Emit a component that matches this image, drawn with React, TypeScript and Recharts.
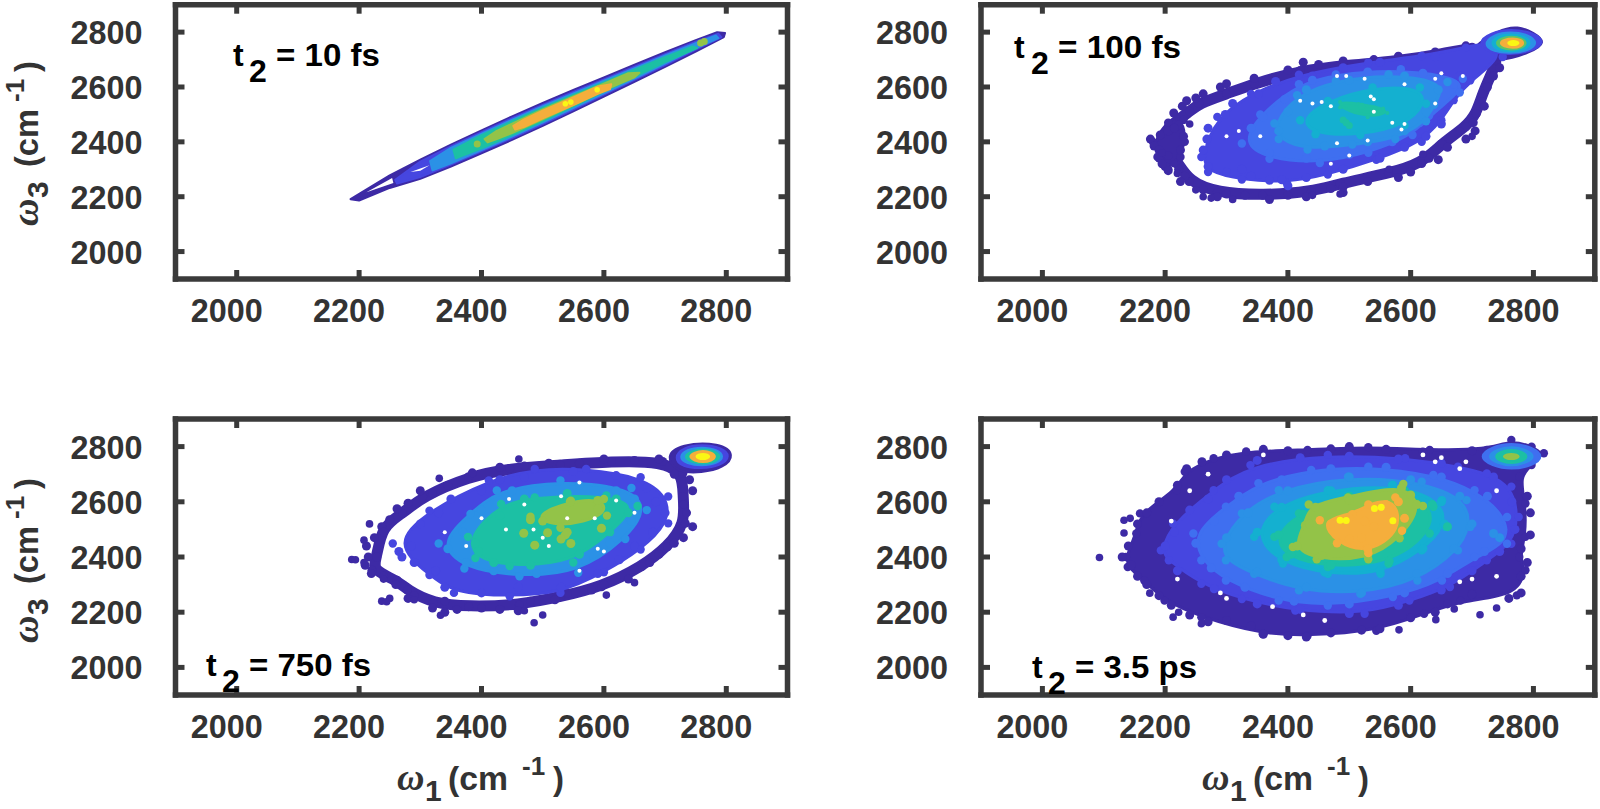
import React from 'react';
import { ScatterChart, Scatter, XAxis, YAxis } from 'recharts';

type P = number[];
const tickValues = [2000, 2200, 2400, 2600, 2800];
const axisDomain = [1900, 2900];
const panelNotes = ['= 10 fs', '= 100 fs', '= 750 fs', '= 3.5 ps'];

// ---- t2 = 10 fs
const p1Outer: P[] = [[2186,2191],[2250,2278],[2300,2335],[2350,2390],[2400,2442],[2450,2493],[2500,2542],[2550,2589],[2600,2635],[2650,2681],[2700,2727],[2750,2771],[2785,2800],[2798,2797],[2796,2782],[2750,2729],[2700,2673],[2650,2619],[2600,2565],[2550,2511],[2500,2458],[2450,2407],[2400,2358],[2350,2310],[2300,2265],[2250,2232],[2200,2186]];
const p1Gap1: P[] = [[2212,2216],[2254,2268],[2256,2250]];
const p1L2: P[] = [[2259,2262],[2300,2328],[2350,2383],[2400,2435],[2450,2486],[2500,2535],[2550,2582],[2600,2628],[2650,2674],[2700,2720],[2750,2765],[2787,2794],[2792,2782],[2750,2736],[2700,2680],[2650,2626],[2600,2572],[2550,2518],[2500,2465],[2450,2414],[2400,2365],[2350,2317],[2300,2272],[2262,2248]];
const p1Gap2: P[] = [[2284,2290],[2315,2315],[2300,2295]];
const p1L3: P[] = [[2316,2330],[2350,2378],[2400,2430],[2450,2481],[2500,2530],[2550,2577],[2600,2623],[2650,2669],[2700,2715],[2750,2760],[2783,2788],[2787,2778],[2750,2741],[2700,2685],[2650,2631],[2600,2577],[2550,2523],[2500,2470],[2450,2419],[2400,2370],[2350,2322],[2320,2296]];
const p1L4: P[] = [[2354,2372],[2400,2424],[2450,2475],[2500,2524],[2550,2571],[2600,2617],[2650,2663],[2700,2709],[2745,2748],[2752,2742],[2700,2691],[2650,2637],[2600,2583],[2550,2529],[2500,2476],[2450,2425],[2400,2376],[2358,2340]];
const p1L5: P[] = [[2405,2410],[2425,2440],[2450,2466],[2500,2518],[2550,2566],[2600,2612],[2640,2650],[2658,2652],[2650,2635],[2600,2588],[2550,2534],[2500,2482],[2450,2432],[2425,2410],[2410,2398]];
const p1L6: P[] = [[2452,2458],[2470,2482],[2500,2514],[2550,2562],[2590,2602],[2612,2610],[2610,2592],[2590,2575],[2550,2534],[2500,2486],[2470,2455],[2455,2445]];
const p1Green: P[] = [[2758,2760],[2764,2766],[2393,2392]];
const p1Yellow: P[] = [[2537,2539],[2546,2545],[2589,2590]];

// ---- t2 = 100 fs
const p2Ring: P[] = [[2190,2400],[2205,2455],[2240,2510],[2255,2540],[2300,2575],[2345,2612],[2420,2660],[2500,2680],[2580,2695],[2650,2720],[2700,2745],[2745,2725],[2735,2665],[2717,2576],[2707,2503],[2690,2455],[2651,2394],[2618,2321],[2564,2285],[2485,2248],[2438,2218],[2359,2205],[2285,2215],[2239,2255],[2219,2333],[2199,2382]];
const p2Left: P[] = [[2180,2400],[2205,2470],[2230,2480],[2232,2400],[2225,2345],[2205,2300],[2190,2340]];
const p2RingBumps: P[] = [[2176,2410],[2182,2385],[2192,2425],[2205,2440],[2222,2462],[2214,2505],[2228,2530],[2235,2550],[2250,2560],[2262,2575],[2290,2600],[2300,2612],[2345,2632],[2400,2662],[2425,2690],[2450,2682],[2490,2695],[2540,2700],[2580,2712],[2640,2728],[2690,2750],[2190,2370],[2188,2345],[2200,2310],[2195,2320],[2205,2295],[2222,2300],[2232,2275],[2225,2255],[2262,2225],[2285,2200],[2300,2210],[2330,2205],[2370,2190],[2400,2205],[2430,2200],[2470,2230],[2490,2215],[2490,2235],[2530,2255],[2580,2270],[2600,2290],[2630,2340],[2645,2335],[2660,2380],[2690,2410],[2705,2440],[2702,2470],[2720,2530],[2725,2600],[2735,2640],[2745,2670],[2205,2350],[2225,2370],[2230,2420],[2215,2450]];
const p2Tail: P[] = [[2695,2735],[2745,2812],[2775,2822],[2800,2800],[2822,2762],[2795,2725],[2745,2690],[2700,2715]];
const p2L2: P[] = [[2259,2345],[2285,2491],[2340,2575],[2418,2645],[2531,2689],[2618,2713],[2690,2743],[2730,2768],[2750,2709],[2697,2624],[2670,2552],[2650,2479],[2618,2400],[2544,2335],[2465,2281],[2398,2251],[2325,2263],[2270,2290]];
const p2L2Bumps: P[] = [[2262,2370],[2268,2410],[2270,2450],[2298,2500],[2310,2540],[2352,2575],[2380,2620],[2440,2640],[2490,2670],[2550,2690],[2640,2710],[2680,2640],[2665,2590],[2655,2530],[2650,2465],[2625,2420],[2590,2380],[2550,2340],[2490,2300],[2430,2270],[2390,2262],[2340,2275],[2300,2290],[2270,2310],[2400,2240],[2370,2260],[2325,2300]];
const p2L3: P[] = [[2325,2394],[2355,2500],[2418,2610],[2478,2646],[2584,2665],[2685,2630],[2680,2580],[2630,2495],[2603,2425],[2531,2360],[2452,2323],[2370,2338]];
const p2L3Bumps: P[] = [[2340,2450],[2360,2490],[2395,2555],[2440,2625],[2530,2655],[2620,2650],[2670,2610],[2640,2540],[2615,2470],[2570,2400],[2500,2355],[2430,2340],[2370,2360]];
const p2L4: P[] = [[2378,2467],[2415,2570],[2478,2622],[2564,2646],[2660,2618],[2638,2535],[2625,2475],[2575,2410],[2505,2390],[2432,2372],[2385,2410]];
const p2L4Bumps: P[] = [[2385,2440],[2400,2510],[2430,2590],[2500,2625],[2590,2640],[2645,2590],[2625,2510],[2590,2440],[2530,2400],[2460,2385]];
const p2L5: P[] = [[2420,2479],[2465,2549],[2538,2598],[2615,2598],[2625,2539],[2590,2460],[2518,2425],[2445,2428]];
const p2L6a: P[] = [[2485,2545],[2515,2538],[2555,2522],[2562,2505],[2530,2490],[2485,2525]];
const p2L6b: P[] = [[2490,2480],[2500,2460],[2495,2470],[2520,2530],[2540,2520]];
const p2PeakA: P[] = [[2708,2760],[2730,2798],[2763,2812],[2802,2798],[2820,2760],[2795,2728],[2763,2718],[2728,2724]];
const p2PeakB: P[] = [[2718,2755],[2735,2792],[2763,2802],[2792,2792],[2808,2760],[2792,2732],[2763,2722],[2735,2728]];
const p2PeakC: P[] = [[2730,2760],[2740,2785],[2763,2794],[2787,2785],[2797,2760],[2787,2736],[2763,2727],[2740,2736]];
const p2PeakD: P[] = [[2738,2760],[2746,2778],[2765,2786],[2782,2778],[2790,2760],[2782,2742],[2765,2734],[2746,2742]];
const p2PeakE: P[] = [[2745,2760],[2751,2773],[2767,2779],[2780,2773],[2785,2760],[2780,2747],[2767,2741],[2751,2747]];
const p2PeakF: P[] = [[2755,2760],[2767,2771],[2780,2760],[2767,2749]];
const p2Specks: P[] = [[2262,2200],[2485,2210],[2250,2225],[2220,2285],[2215,2320],[2240,2465],[2680,2440],[2700,2420],[2195,2360],[2275,2195],[2310,2190],[2440,2205],[2620,2355],[2565,2300]];
const p2White: P[] = [[2540,2510],[2525,2630],[2685,2640],[2300,2420],[2640,2540],[2420,2550],[2570,2470],[2470,2320],[2535,2565],[2540,2555],[2470,2530],[2455,2545],[2440,2540],[2640,2630],[2650,2650],[2590,2610],[2480,2640],[2495,2640],[2320,2440],[2355,2420],[2530,2405],[2585,2445],[2590,2465],[2480,2395],[2500,2350]];

// ---- t2 = 750 fs
const p3Ring: P[] = [[2229,2400],[2237,2510],[2271,2558],[2304,2619],[2379,2691],[2446,2721],[2529,2733],[2612,2746],[2696,2746],[2729,2703],[2729,2619],[2733,2522],[2704,2437],[2662,2365],[2596,2292],[2529,2256],[2462,2226],[2379,2220],[2321,2232],[2279,2280],[2262,2316],[2221,2352]];
const p3RingBumps: P[] = [[2215,2400],[2212,2440],[2225,2470],[2240,2490],[2250,2535],[2262,2575],[2280,2595],[2300,2640],[2320,2630],[2345,2660],[2385,2705],[2430,2725],[2470,2730],[2510,2740],[2560,2740],[2600,2755],[2650,2750],[2690,2755],[2715,2700],[2740,2680],[2745,2640],[2730,2590],[2735,2560],[2745,2510],[2730,2470],[2715,2450],[2690,2410],[2675,2380],[2650,2355],[2640,2320],[2600,2300],[2580,2280],[2540,2270],[2520,2245],[2480,2240],[2460,2205],[2430,2210],[2400,2215],[2360,2210],[2340,2240],[2320,2215],[2340,2200],[2290,2260],[2280,2250],[2260,2300],[2240,2330],[2220,2340],[2210,2370]];
const p3Tail: P[] = [[2700,2764],[2725,2810],[2790,2815],[2815,2770],[2795,2722],[2760,2705],[2720,2705]];
const p3L2: P[] = [[2255,2449],[2315,2568],[2412,2677],[2487,2719],[2571,2719],[2660,2689],[2705,2619],[2705,2522],[2660,2427],[2600,2345],[2529,2270],[2446,2258],[2355,2270],[2315,2335]];
const p3L2Bumps: P[] = [[2270,2400],[2285,2440],[2265,2420],[2300,2520],[2330,2560],[2350,2610],[2400,2640],[2430,2680],[2470,2690],[2550,2710],[2620,2695],[2670,2650],[2685,2600],[2700,2560],[2680,2490],[2650,2440],[2625,2390],[2590,2340],[2530,2290],[2460,2290],[2400,2270],[2340,2290],[2325,2350],[2290,2380]];
const p3L3: P[] = [[2330,2449],[2382,2556],[2425,2641],[2529,2677],[2645,2650],[2670,2570],[2635,2465],[2558,2343],[2462,2330],[2372,2358]];
const p3L3Bumps: P[] = [[2345,2430],[2370,2490],[2400,2570],[2450,2640],[2560,2660],[2620,2640],[2650,2610],[2645,2530],[2610,2450],[2570,2390],[2490,2340],[2420,2350],[2375,2380]];
const p3L4: P[] = [[2378,2473],[2432,2592],[2487,2616],[2604,2623],[2655,2585],[2610,2490],[2550,2380],[2446,2367],[2390,2396]];
const p3L4Bumps: P[] = [[2390,2450],[2430,2550],[2470,2610],[2540,2630],[2620,2610],[2640,2560],[2600,2500],[2560,2410],[2480,2370],[2420,2380],[2395,2420]];
const p3L5: P[] = [[2480,2546],[2546,2604],[2600,2610],[2605,2550],[2529,2506]];
const p3Green: P[] = [[2469,2486],[2508,2488],[2537,2480],[2546,2449],[2487,2443],[2596,2504],[2530,2465],[2540,2490],[2480,2535],[2545,2600],[2590,2605],[2590,2575],[2500,2530]];
const p3PeakB: P[] = [[2714,2760],[2730,2798],[2760,2808],[2792,2798],[2808,2765],[2790,2730],[2760,2720],[2728,2726]];
const p3PeakC: P[] = [[2722,2762],[2735,2790],[2760,2799],[2785,2790],[2797,2764],[2785,2738],[2760,2730],[2735,2738]];
const p3PeakD: P[] = [[2730,2764],[2742,2784],[2762,2792],[2782,2784],[2792,2764],[2782,2744],[2762,2736],[2742,2744]];
const p3PeakE: P[] = [[2738,2764],[2748,2780],[2762,2786],[2776,2780],[2784,2764],[2776,2748],[2762,2742],[2748,2748]];
const p3PeakF: P[] = [[2746,2764],[2762,2778],[2777,2764],[2762,2750]];
const p3Specks: P[] = [[2461,2755],[2331,2685],[2217,2520],[2208,2461],[2188,2391],[2237,2240],[2486,2162],[2333,2189],[2604,2262],[2650,2307],[2304,2510],[2250,2250],[2290,2245],[2208,2380],[2240,2320],[2500,2190],[2470,2205],[2730,2590],[2245,2238],[2194,2390]];
const p3White: P[] = [[2485,2500],[2600,2420],[2530,2620],[2650,2560],[2400,2540],[2440,2500],[2540,2540],[2500,2470],[2510,2440],[2585,2540],[2590,2430],[2470,2590],[2560,2350],[2620,2605],[2340,2490],[2375,2440],[2560,2670],[2445,2610]];

// ---- t2 = 3.5 ps
const p4Outer: P[] = [[2136,2400],[2153,2485],[2159,2558],[2219,2642],[2232,2709],[2279,2758],[2332,2782],[2432,2788],[2531,2798],[2631,2788],[2724,2788],[2764,2824],[2797,2800],[2817,2776],[2797,2733],[2777,2691],[2787,2594],[2787,2473],[2777,2400],[2787,2352],[2773,2261],[2681,2242],[2622,2194],[2544,2133],[2432,2115],[2359,2121],[2259,2182],[2199,2242],[2166,2315],[2139,2364]];
const p4OuterBumps: P[] = [[2130,2400],[2140,2440],[2155,2520],[2170,2560],[2190,2600],[2220,2660],[2235,2720],[2260,2745],[2300,2770],[2360,2790],[2400,2785],[2470,2792],[2500,2800],[2560,2790],[2620,2780],[2700,2785],[2790,2620],[2795,2560],[2795,2480],[2780,2430],[2790,2380],[2780,2330],[2780,2270],[2760,2250],[2700,2265],[2660,2230],[2640,2200],[2600,2180],[2550,2140],[2520,2135],[2470,2125],[2430,2110],[2400,2115],[2360,2120],[2340,2150],[2300,2170],[2270,2165],[2240,2190],[2210,2225],[2190,2260],[2170,2300],[2155,2330],[2145,2370]];
const p4L2: P[] = [[2193,2424],[2213,2521],[2279,2642],[2339,2733],[2465,2770],[2591,2758],[2677,2727],[2724,2703],[2764,2655],[2776,2545],[2764,2448],[2724,2388],[2664,2291],[2598,2242],[2525,2194],[2412,2206],[2325,2248],[2259,2303],[2206,2388]];
const p4L2Bumps: P[] = [[2200,2440],[2215,2490],[2240,2570],[2270,2610],[2300,2680],[2350,2750],[2420,2760],[2500,2765],[2580,2755],[2650,2740],[2735,2690],[2765,2600],[2770,2500],[2745,2420],[2700,2350],[2650,2280],[2580,2225],[2500,2195],[2420,2210],[2350,2230],[2280,2285],[2220,2350]];
const p4L3: P[] = [[2246,2485],[2299,2582],[2352,2667],[2438,2715],[2531,2727],[2637,2697],[2704,2642],[2757,2545],[2757,2448],[2704,2400],[2651,2315],[2571,2255],[2465,2224],[2385,2242],[2299,2315],[2259,2388]];
const p4L3Bumps: P[] = [[2250,2450],[2280,2530],[2320,2620],[2390,2680],[2470,2720],[2560,2725],[2650,2690],[2725,2620],[2750,2500],[2720,2420],[2660,2340],[2590,2270],[2500,2230],[2410,2240],[2330,2290],[2275,2360]];
const p4L4: P[] = [[2292,2448],[2325,2558],[2385,2642],[2498,2691],[2618,2673],[2691,2606],[2697,2509],[2677,2424],[2611,2315],[2518,2267],[2418,2279],[2345,2339],[2299,2388]];
const p4L4Bumps: P[] = [[2300,2470],[2335,2560],[2400,2640],[2500,2690],[2600,2680],[2680,2620],[2700,2520],[2670,2430],[2610,2340],[2520,2270],[2430,2290],[2350,2345],[2745,2470],[2735,2485]];
const p4L5: P[] = [[2345,2473],[2378,2582],[2465,2642],[2571,2661],[2651,2606],[2657,2509],[2618,2424],[2551,2339],[2465,2339],[2392,2376]];
const p4L5Bumps: P[] = [[2350,2490],[2390,2580],[2470,2640],[2570,2660],[2650,2600],[2655,2520],[2620,2430],[2550,2350],[2460,2345],[2390,2390]];
const p4L6: P[] = [[2378,2473],[2418,2558],[2498,2618],[2584,2636],[2637,2582],[2631,2485],[2564,2376],[2465,2364],[2398,2400]];
const p4L6Bumps: P[] = [[2385,2480],[2425,2555],[2500,2620],[2590,2640],[2635,2590],[2660,2510],[2565,2385],[2470,2370],[2405,2410]];
const p4L7: P[] = [[2408,2436],[2428,2515],[2434,2590],[2498,2616],[2588,2665],[2620,2585],[2582,2468],[2531,2392],[2447,2392]];
const p4L7Bumps: P[] = [[2415,2440],[2435,2520],[2445,2580],[2500,2605],[2585,2650],[2610,2590],[2580,2480],[2530,2405],[2455,2405],[2600,2625]];
const p4L8: P[] = [[2452,2533],[2505,2555],[2531,2590],[2575,2616],[2586,2495],[2531,2414],[2480,2450]];
const p4L8Bumps: P[] = [[2500,2540],[2525,2530],[2540,2510],[2560,2590],[2580,2600],[2590,2540],[2520,2470],[2500,2465],[2530,2430],[2470,2520]];
const p4Yellow: P[] = [[2485,2533],[2495,2532],[2571,2531],[2541,2576],[2552,2580]];
const p4PeakA: P[] = [[2710,2764],[2732,2800],[2764,2814],[2798,2800],[2818,2764],[2798,2730],[2764,2716],[2732,2730]];
const p4PeakB: P[] = [[2724,2764],[2740,2790],[2764,2802],[2788,2790],[2804,2764],[2788,2740],[2764,2728],[2740,2740]];
const p4PeakC: P[] = [[2736,2764],[2746,2782],[2764,2790],[2782,2782],[2792,2764],[2782,2746],[2764,2738],[2746,2746]];
const p4PeakD: P[] = [[2746,2764],[2764,2778],[2782,2764],[2764,2750]];
const p4Specks: P[] = [[2093,2398],[2133,2533],[2133,2487],[2175,2269],[2213,2182],[2259,2158],[2641,2173],[2581,2136],[2713,2191],[2671,2212],[2143,2540],[2222,2200],[2740,2215]];
const p4White: P[] = [[2360,2770],[2620,2770],[2650,2760],[2640,2745],[2680,2720],[2740,2640],[2680,2310],[2700,2320],[2740,2330],[2220,2320],[2210,2530],[2240,2640],[2290,2270],[2300,2250],[2375,2220],[2270,2700],[2690,2745],[2460,2170],[2425,2190]];

const PURPLE = '#3d2aa5', INDIGO = '#4646e0', BLUE = '#3f6ff0', AZURE = '#2b91e6', CYAN = '#14b0d0', TEAL = '#1cc0a4', GREEN = '#5cc468', LIME = '#93c348', ORANGE = '#f5ae3c', YELLOW = '#fbf714';

type Layer = { pts: P[]; color: string; poly?: boolean; ring?: boolean; r: number; sw: number; joint?: string };
const band = (pts: P[], color: string): Layer => ({ pts, color, poly: true, r: 0, sw: 2, joint: 'linearClosed' });
const poly = (pts: P[], color: string, r = 4.2, sw = 3): Layer => ({ pts, color, poly: true, r, sw });
const ring = (pts: P[], color: string, r = 4.5, sw = 11): Layer => ({ pts, color, ring: true, r, sw });
const dots = (pts: P[], color: string, r = 4.5): Layer => ({ pts, color, r, sw: 0 });

const panel1: Layer[] = [band(p1Outer, PURPLE), { ...band(p1Gap1, '#fff'), sw: 0 }, band(p1L2, INDIGO), { ...band(p1Gap2, '#fff'), sw: 0 }, band(p1L3, AZURE), band(p1L4, TEAL), band(p1L5, LIME), band(p1L6, ORANGE), dots(p1Green, LIME, 3.5), dots(p1Yellow, YELLOW, 2.8)];
const panel2: Layer[] = [ring(p2Ring, PURPLE), poly(p2Left, PURPLE), dots(p2RingBumps, PURPLE), poly(p2Tail, PURPLE, 0, 2), dots(p2Specks, PURPLE, 3.8), poly(p2L2, INDIGO), dots(p2L2Bumps, INDIGO), poly(p2L3, BLUE), dots(p2L3Bumps, BLUE), poly(p2L4, AZURE), dots(p2L4Bumps, AZURE), poly(p2L5, CYAN), poly(p2L6a, TEAL, 2, 3), dots(p2L6b, TEAL, 3.5), dots(p2White, '#fff', 2), poly(p2PeakA, INDIGO, 0, 2), poly(p2PeakB, AZURE, 0, 2), poly(p2PeakC, CYAN, 0, 2), poly(p2PeakD, GREEN, 0, 2), poly(p2PeakE, ORANGE, 0, 2), poly(p2PeakF, YELLOW, 0, 2)];
const panel3: Layer[] = [ring(p3Ring, PURPLE), dots(p3RingBumps, PURPLE), poly(p3Tail, PURPLE, 0, 2), dots(p3Specks, PURPLE, 3.8), poly(p3L2, INDIGO), dots(p3L2Bumps, INDIGO), poly(p3L3, AZURE), dots(p3L3Bumps, AZURE), poly(p3L4, TEAL), dots(p3L4Bumps, TEAL), poly(p3L5, LIME), dots(p3Green, LIME, 4.5), dots(p3White, '#fff', 2), poly(p3PeakB, INDIGO, 0, 2), poly(p3PeakC, AZURE, 0, 2), poly(p3PeakD, TEAL, 0, 2), poly(p3PeakE, ORANGE, 0, 2), poly(p3PeakF, YELLOW, 0, 2)];
const panel4: Layer[] = [poly(p4Outer, PURPLE), dots(p4OuterBumps, PURPLE), dots(p4Specks, PURPLE, 3.8), poly(p4L2, INDIGO), dots(p4L2Bumps, INDIGO), poly(p4L3, BLUE), dots(p4L3Bumps, BLUE), poly(p4L4, AZURE), dots(p4L4Bumps, AZURE), poly(p4L5, CYAN), dots(p4L5Bumps, CYAN), poly(p4L6, TEAL), dots(p4L6Bumps, TEAL), poly(p4L7, LIME), dots(p4L7Bumps, LIME), poly(p4L8, ORANGE), dots(p4L8Bumps, ORANGE), dots(p4Yellow, YELLOW, 3.5), dots(p4White, '#fff', 2.4), poly(p4PeakA, BLUE, 0, 2), poly(p4PeakB, AZURE, 0, 2), poly(p4PeakC, TEAL, 0, 2), poly(p4PeakD, LIME, 0, 2)];

const FONT = '"Liberation Sans", Arial, sans-serif';
const OMEGA = '"Liberation Serif", serif';
const INK = '#333333';
const FRAME = '#3a3a3a';
const FW = 5.5;

const BottomTick = (p: any) => (
  <g>
    <line x1={p.x} x2={p.x} y1={p.y} y2={p.y - 9} stroke={FRAME} strokeWidth={5} />
    <text x={p.x - 46} y={p.y + 43} fontFamily={FONT} fontWeight="bold" fontSize={33} fill={INK} textLength={72} lengthAdjust="spacingAndGlyphs">{p.payload.value}</text>
  </g>
);
const LeftTick = (p: any) => (
  <g>
    <line x1={p.x} x2={p.x + 9} y1={p.y} y2={p.y} stroke={FRAME} strokeWidth={5} />
    <text x={p.x - 105} y={p.y + 12} fontFamily={FONT} fontWeight="bold" fontSize={33} fill={INK} textLength={72} lengthAdjust="spacingAndGlyphs">{p.payload.value}</text>
  </g>
);
const TopTick = (p: any) => <line x1={p.x} x2={p.x} y1={p.y} y2={p.y + 9} stroke={FRAME} strokeWidth={5} />;
const RightTick = (p: any) => <line x1={p.x} x2={p.x - 9} y1={p.y} y2={p.y} stroke={FRAME} strokeWidth={5} />;

function Panel({ box, layers }: { box: number[]; layers: Layer[] }) {
  const [l, t, r, b] = box;
  const W = 1600, H = 809, AX = 50;
  const axisLine = { stroke: FRAME, strokeWidth: FW, strokeLinecap: 'square' as const };
  return (
    <div style={{ position: 'absolute', left: 0, top: 0 }}>
      <ScatterChart width={W} height={H} margin={{ left: l - AX, top: t - AX, right: W - r - AX, bottom: H - b - AX }} style={{ overflow: 'visible' }}>
        <XAxis xAxisId="b" type="number" dataKey="x" orientation="bottom" domain={axisDomain} ticks={tickValues} height={AX} tickSize={0} tickMargin={0} tickLine={false} axisLine={axisLine} tick={BottomTick} interval={0} allowDataOverflow />
        <XAxis xAxisId="t" type="number" dataKey="x" orientation="top" domain={axisDomain} ticks={tickValues} height={AX} tickSize={0} tickMargin={0} tickLine={false} axisLine={axisLine} tick={TopTick} interval={0} allowDataOverflow />
        <YAxis yAxisId="l" type="number" dataKey="y" orientation="left" domain={axisDomain} ticks={tickValues} width={AX} tickSize={0} tickMargin={0} tickLine={false} axisLine={axisLine} tick={LeftTick} interval={0} allowDataOverflow />
        <YAxis yAxisId="r" type="number" dataKey="y" orientation="right" domain={axisDomain} ticks={tickValues} width={AX} tickSize={0} tickMargin={0} tickLine={false} axisLine={axisLine} tick={RightTick} interval={0} allowDataOverflow />
        {layers.map((ly, i) => (
          <Scatter
            key={i}
            xAxisId="b"
            yAxisId="l"
            data={ly.pts.map(([x, y]) => ({ x, y }))}
            fill={ly.color}
            isAnimationActive={false}
            lineType="joint"
            lineJointType={(ly.joint || 'basisClosed') as any}
            line={ly.poly || ly.ring ? { fill: ly.poly ? ly.color : 'none', stroke: ly.color, strokeWidth: ly.sw, strokeLinejoin: 'round' } : false}
            shape={(s: any) => (ly.r > 0 ? <circle cx={s.cx} cy={s.cy} r={ly.r} fill={ly.color} /> : <g />)}
          />
        ))}
      </ScatterChart>
    </div>
  );
}

function YTitle({ x, y }: { x: number; y: number }) {
  return (
    <g transform={`rotate(-90 ${x} ${y})`} fontFamily={FONT} fontWeight="bold" fontSize={33} fill={INK}>
      <text x={x} y={y} fontFamily={OMEGA} fontStyle="italic" fontSize={38}>ω</text>
      <text x={x + 28} y={y + 10} fontSize={30}>3</text>
      <text x={x + 59} y={y} textLength={58} lengthAdjust="spacingAndGlyphs">(cm</text>
      <text x={x + 124} y={y - 14} fontSize={26}>-1</text>
      <text x={x + 154} y={y}>)</text>
    </g>
  );
}
function XTitle({ x, y }: { x: number; y: number }) {
  return (
    <g fontFamily={FONT} fontWeight="bold" fontSize={33} fill={INK}>
      <text x={x} y={y} fontFamily={OMEGA} fontStyle="italic" fontSize={38}>ω</text>
      <text x={x + 28} y={y + 11} fontSize={30}>1</text>
      <text x={x + 51} y={y} textLength={60} lengthAdjust="spacingAndGlyphs">(cm</text>
      <text x={x + 125} y={y - 15} fontSize={26}>-1</text>
      <text x={x + 156} y={y}>)</text>
    </g>
  );
}
function Note({ x, y, sx, ex, label }: { x: number; y: number; sx: number; ex: number; label: string }) {
  return (
    <g fontFamily={FONT} fontWeight="bold" fontSize={32} fill="#000">
      <text x={x} y={y}>t</text>
      <text x={sx} y={y + 16}>2</text>
      <text x={sx + 27} y={y} textLength={ex - sx - 27} lengthAdjust="spacingAndGlyphs">{label}</text>
    </g>
  );
}

export default function App() {
  return (
    <div style={{ position: 'absolute', left: 0, top: 0, width: 1600, height: 809, background: '#fff', overflow: 'hidden' }}>
      <Panel box={[175.5, 4.7, 787.5, 279]} layers={panel1} />
      <Panel box={[981, 4.7, 1594.8, 279]} layers={panel2} />
      <Panel box={[175.5, 419, 787.5, 695]} layers={panel3} />
      <Panel box={[981, 419, 1594.8, 695]} layers={panel4} />
      <svg width={1600} height={809} style={{ position: 'absolute', left: 0, top: 0, pointerEvents: 'none' }}>
        <YTitle x={38} y={226} />
        <YTitle x={38} y={643} />
        <XTitle x={397} y={790} />
        <XTitle x={1202} y={790} />
        <Note x={233} y={66} sx={249} ex={380} label={panelNotes[0]} />
        <Note x={1014} y={58} sx={1031} ex={1181} label={panelNotes[1]} />
        <Note x={206} y={676} sx={222} ex={371} label={panelNotes[2]} />
        <Note x={1032} y={678} sx={1048} ex={1197} label={panelNotes[3]} />
      </svg>
    </div>
  );
}
